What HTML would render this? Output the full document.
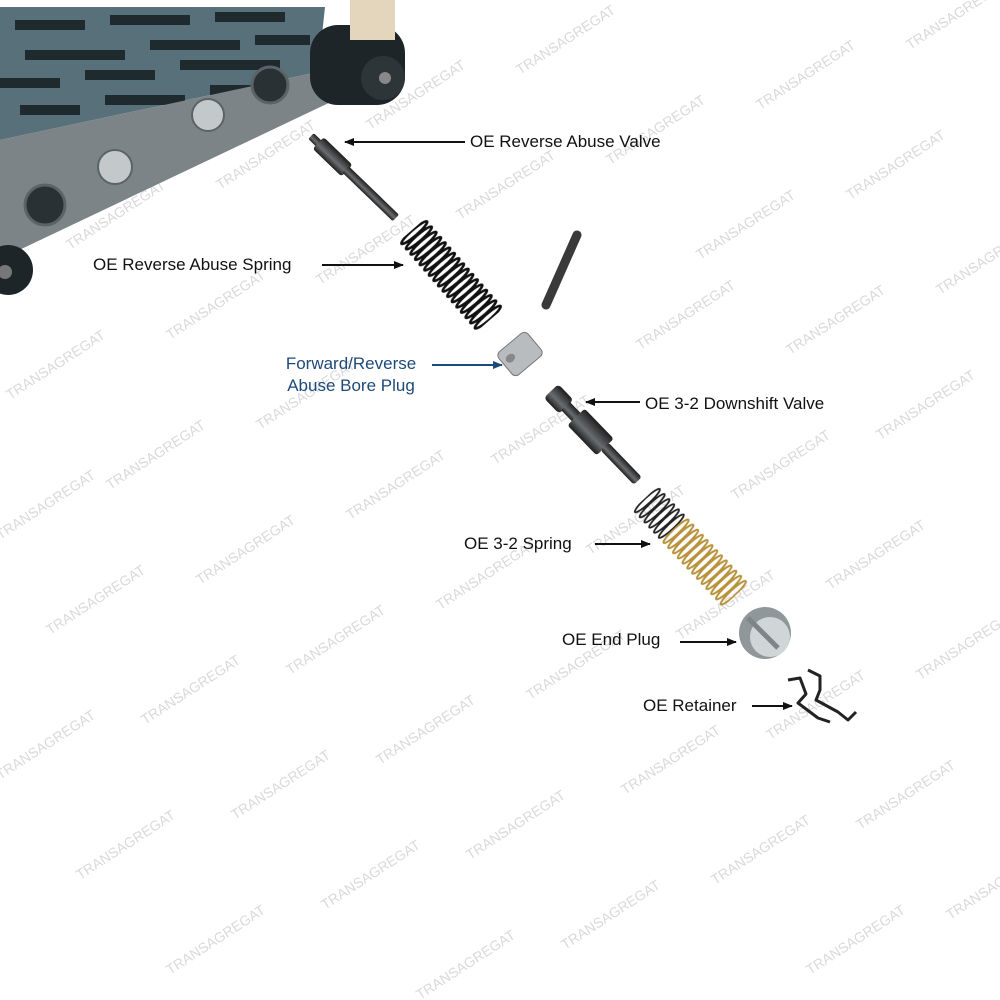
<!DOCTYPE html>
<html><head><meta charset="utf-8"><style>
html,body{margin:0;padding:0;background:#fff;}
svg{display:block;}
text{font-family:"Liberation Sans",Arial,sans-serif;}
</style></head><body>
<svg width="1000" height="1000" viewBox="0 0 1000 1000" xmlns="http://www.w3.org/2000/svg">
<defs>
<marker id="ah" markerWidth="10" markerHeight="8" refX="9" refY="4" orient="auto" markerUnits="userSpaceOnUse">
<path d="M0,0 L10,4 L0,8 z" fill="#111"/></marker>
<marker id="ahb" markerWidth="10" markerHeight="8" refX="9" refY="4" orient="auto" markerUnits="userSpaceOnUse">
<path d="M0,0 L10,4 L0,8 z" fill="#1e4a7a"/></marker>
<linearGradient id="rod" x1="0" y1="0" x2="1" y2="0">
<stop offset="0" stop-color="#1e1e1e"/><stop offset="0.4" stop-color="#6a6d70"/><stop offset="1" stop-color="#1e1e1e"/></linearGradient>
<pattern id="coilB" width="40" height="7" patternUnits="userSpaceOnUse">
<ellipse cx="20" cy="3.5" rx="17" ry="3" fill="none" stroke="#111" stroke-width="2.6"/></pattern>
<pattern id="coilG" width="40" height="7" patternUnits="userSpaceOnUse">
<ellipse cx="20" cy="3.5" rx="17" ry="3" fill="none" stroke="#b8923a" stroke-width="2"/></pattern>
<pattern id="coilK" width="40" height="7" patternUnits="userSpaceOnUse">
<ellipse cx="20" cy="3.5" rx="17" ry="3" fill="none" stroke="#222" stroke-width="1.8"/></pattern>
</defs>

<!-- watermarks -->
<g fill="#d9d9d9" font-size="14">
<text transform="translate(70,250) rotate(-33)">TRANSAGREGAT</text>
<text transform="translate(220,190) rotate(-33)">TRANSAGREGAT</text>
<text transform="translate(370,130) rotate(-33)">TRANSAGREGAT</text>
<text transform="translate(520,75) rotate(-33)">TRANSAGREGAT</text>
<text transform="translate(760,110) rotate(-33)">TRANSAGREGAT</text>
<text transform="translate(910,50) rotate(-33)">TRANSAGREGAT</text>
<text transform="translate(460,220) rotate(-33)">TRANSAGREGAT</text>
<text transform="translate(610,165) rotate(-33)">TRANSAGREGAT</text>
<text transform="translate(700,260) rotate(-33)">TRANSAGREGAT</text>
<text transform="translate(850,200) rotate(-33)">TRANSAGREGAT</text>
<text transform="translate(940,295) rotate(-33)">TRANSAGREGAT</text>
<text transform="translate(170,340) rotate(-33)">TRANSAGREGAT</text>
<text transform="translate(320,285) rotate(-33)">TRANSAGREGAT</text>
<text transform="translate(790,355) rotate(-33)">TRANSAGREGAT</text>
<text transform="translate(10,400) rotate(-33)">TRANSAGREGAT</text>
<text transform="translate(260,430) rotate(-33)">TRANSAGREGAT</text>
<text transform="translate(640,350) rotate(-33)">TRANSAGREGAT</text>
<text transform="translate(880,440) rotate(-33)">TRANSAGREGAT</text>
<text transform="translate(110,490) rotate(-33)">TRANSAGREGAT</text>
<text transform="translate(350,520) rotate(-33)">TRANSAGREGAT</text>
<text transform="translate(495,465) rotate(-33)">TRANSAGREGAT</text>
<text transform="translate(735,500) rotate(-33)">TRANSAGREGAT</text>
<text transform="translate(0,540) rotate(-33)">TRANSAGREGAT</text>
<text transform="translate(200,585) rotate(-33)">TRANSAGREGAT</text>
<text transform="translate(440,610) rotate(-33)">TRANSAGREGAT</text>
<text transform="translate(590,555) rotate(-33)">TRANSAGREGAT</text>
<text transform="translate(830,590) rotate(-33)">TRANSAGREGAT</text>
<text transform="translate(50,635) rotate(-33)">TRANSAGREGAT</text>
<text transform="translate(290,675) rotate(-33)">TRANSAGREGAT</text>
<text transform="translate(530,700) rotate(-33)">TRANSAGREGAT</text>
<text transform="translate(680,640) rotate(-33)">TRANSAGREGAT</text>
<text transform="translate(920,680) rotate(-33)">TRANSAGREGAT</text>
<text transform="translate(145,725) rotate(-33)">TRANSAGREGAT</text>
<text transform="translate(380,765) rotate(-33)">TRANSAGREGAT</text>
<text transform="translate(625,795) rotate(-33)">TRANSAGREGAT</text>
<text transform="translate(770,740) rotate(-33)">TRANSAGREGAT</text>
<text transform="translate(0,780) rotate(-33)">TRANSAGREGAT</text>
<text transform="translate(235,820) rotate(-33)">TRANSAGREGAT</text>
<text transform="translate(470,860) rotate(-33)">TRANSAGREGAT</text>
<text transform="translate(715,885) rotate(-33)">TRANSAGREGAT</text>
<text transform="translate(860,830) rotate(-33)">TRANSAGREGAT</text>
<text transform="translate(80,880) rotate(-33)">TRANSAGREGAT</text>
<text transform="translate(325,910) rotate(-33)">TRANSAGREGAT</text>
<text transform="translate(565,950) rotate(-33)">TRANSAGREGAT</text>
<text transform="translate(810,975) rotate(-33)">TRANSAGREGAT</text>
<text transform="translate(170,975) rotate(-33)">TRANSAGREGAT</text>
<text transform="translate(420,1000) rotate(-33)">TRANSAGREGAT</text>
<text transform="translate(950,920) rotate(-33)">TRANSAGREGAT</text>
</g>

<!-- valve body: deck -->
<polygon points="0,7 325,7 318,72 0,140" fill="#587079"/>
<g fill="#1f2a2e">
<rect x="15" y="20" width="70" height="10"/><rect x="110" y="15" width="80" height="10"/>
<rect x="215" y="12" width="70" height="10"/><rect x="25" y="50" width="100" height="10"/>
<rect x="150" y="40" width="90" height="10"/><rect x="255" y="35" width="55" height="10"/>
<rect x="0" y="78" width="60" height="10"/><rect x="85" y="70" width="70" height="10"/>
<rect x="180" y="60" width="100" height="10"/><rect x="20" y="105" width="60" height="10"/>
<rect x="105" y="95" width="80" height="10"/><rect x="210" y="85" width="60" height="10"/>
</g>
<!-- side face -->
<polygon points="0,140 318,72 335,100 15,252 0,255" fill="#7c8487"/>
<circle cx="270" cy="85" r="18" fill="#2a3134" stroke="#5a6366" stroke-width="3"/>
<circle cx="208" cy="115" r="16" fill="#c3c8ca" stroke="#5a6366" stroke-width="2"/>
<circle cx="115" cy="167" r="17" fill="#c3c8ca" stroke="#5a6366" stroke-width="2"/>
<circle cx="45" cy="205" r="20" fill="#2a3134" stroke="#5a6366" stroke-width="3"/>
<!-- black cap -->
<rect x="310" y="25" width="95" height="80" rx="28" fill="#1e2528"/>
<circle cx="383" cy="78" r="22" fill="#2e3538"/>
<circle cx="385" cy="78" r="6" fill="#888"/>
<rect x="350" y="0" width="45" height="40" fill="#e4d6bc"/>
<circle cx="8" cy="270" r="25" fill="#1e2528"/>
<circle cx="5" cy="272" r="7" fill="#777"/>

<!-- reverse abuse valve -->
<g transform="translate(311,136) rotate(-46)">
<rect x="-4" y="0" width="8" height="12" rx="2" fill="url(#rod)"/>
<rect x="-8" y="10" width="16" height="40" rx="3" fill="url(#rod)"/>
<rect x="-4.5" y="48" width="9" height="70" rx="2" fill="url(#rod)"/>
</g>
<!-- reverse abuse spring -->
<g transform="translate(412,230) rotate(-41)">
<g transform="translate(-20,0)">
<rect x="0" y="0" width="40" height="119" fill="url(#coilB)"/>
</g>
</g>
<!-- pin -->
<line x1="577" y1="235" x2="546" y2="305" stroke="#3a3a3a" stroke-width="9" stroke-linecap="round"/>
<!-- bore plug -->
<g transform="translate(520,354) rotate(-40)">
<rect x="-19" y="-15" width="38" height="30" rx="5" fill="#b9bcbf" stroke="#777"/>
<ellipse cx="-10" cy="-3" rx="5" ry="4" fill="#888"/>
</g>
<!-- downshift valve -->
<g transform="translate(551,391) rotate(-44)">
<rect x="-10" y="0" width="20" height="22" rx="4" fill="url(#rod)"/>
<rect x="-6" y="21" width="12" height="16" fill="url(#rod)"/>
<rect x="-12" y="36" width="24" height="42" rx="3" fill="url(#rod)"/>
<rect x="-5.5" y="77" width="11" height="48" rx="3" fill="url(#rod)"/>
</g>
<!-- 3-2 spring -->
<g transform="translate(645,498) rotate(-43)">
<g transform="translate(-20,0)">
<rect x="0" y="0" width="40" height="42" fill="url(#coilK)"/>
<rect x="0" y="42" width="40" height="91" fill="url(#coilG)"/>
</g>
</g>
<!-- end plug -->
<circle cx="765" cy="633" r="26" fill="#8f979b"/>
<circle cx="770" cy="637" r="20" fill="#d0d5d8"/>
<path d="M748,618 L778,648" stroke="#7d8589" stroke-width="5"/>

<!-- retainer -->
<g fill="none" stroke="#222" stroke-width="3" stroke-linejoin="round">
<path d="M788,680 L800,678 L806,694 L798,703 L818,718 L830,722"/>
<path d="M808,670 L820,676 L820,690 L816,700 L838,712 L848,720 L856,712"/>
</g>

<!-- labels -->
<g font-size="17" fill="#111">
<text x="470" y="147">OE Reverse Abuse Valve</text>
<text x="93" y="270">OE Reverse Abuse Spring</text>
<text x="645" y="409">OE 3-2 Downshift Valve</text>
<text x="464" y="549">OE 3-2 Spring</text>
<text x="562" y="645">OE End Plug</text>
<text x="643" y="711">OE Retainer</text>
</g>
<g font-size="17" fill="#1e4a7a" text-anchor="middle">
<text x="351" y="369">Forward/Reverse</text>
<text x="351" y="391">Abuse Bore Plug</text>
</g>
<g stroke="#111" stroke-width="2">
<line x1="465" y1="142" x2="345" y2="142" marker-end="url(#ah)"/>
<line x1="322" y1="265" x2="403" y2="265" marker-end="url(#ah)"/>
<line x1="640" y1="402" x2="586" y2="402" marker-end="url(#ah)"/>
<line x1="595" y1="544" x2="650" y2="544" marker-end="url(#ah)"/>
<line x1="680" y1="642" x2="736" y2="642" marker-end="url(#ah)"/>
<line x1="752" y1="706" x2="792" y2="706" marker-end="url(#ah)"/>
</g>
<line x1="432" y1="365" x2="502" y2="365" stroke="#1e4a7a" stroke-width="2" marker-end="url(#ahb)"/>
</svg>
</body></html>
